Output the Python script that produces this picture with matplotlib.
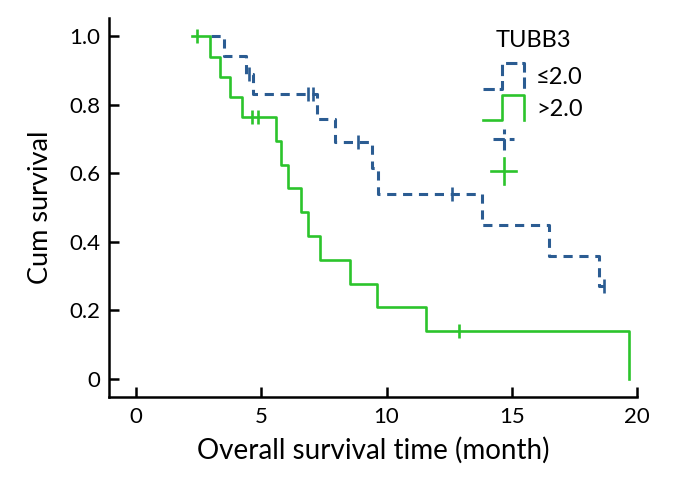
import matplotlib
matplotlib.use('Agg')
import matplotlib.pyplot as plt
from matplotlib.lines import Line2D
from matplotlib.legend_handler import HandlerBase

# ---------------- data ----------------
group_labels = ['\u22642.0', '>2.0']
legend_title = 'TUBB3'

low_start = 3.0
low_event_t = [3.5, 4.39, 4.67, 7.23, 7.94, 9.42, 9.66, 13.8, 16.5, 18.5]
low_event_s = [0.944, 0.889, 0.833, 0.759, 0.692, 0.617, 0.540, 0.450, 0.360, 0.270]
low_end = 18.7
low_censor_t = [4.5, 6.85, 7.05, 8.86, 12.6, 18.7]

high_start = 2.24
high_event_t = [2.95, 3.37, 3.75, 4.23, 5.6, 5.77, 6.05, 6.6, 6.87, 7.35, 8.54, 9.62, 11.58, 19.7]
high_event_s = [0.941, 0.882, 0.824, 0.765, 0.696, 0.626, 0.557, 0.487, 0.417, 0.348, 0.278, 0.209, 0.139, 0.0]
high_end = 19.7
high_censor_t = [2.43, 4.63, 4.87, 12.9]

x_ticks = [0, 5, 10, 15, 20]
y_ticks = [0, 0.2, 0.4, 0.6, 0.8, 1.0]
y_ticklabels = ['0', '0.2', '0.4', '0.6', '0.8', '1.0']

BLUE = '#2b5c92'
GREEN = '#2cc42c'
DASH = (0, (3.0, 2.2))

plt.rcParams['font.family'] = ['Lato', 'DejaVu Sans']


def surv_at(t, ev_t, ev_s):
    s = 1.0
    for et, es in zip(ev_t, ev_s):
        if et <= t:
            s = es
    return s


fig = plt.figure(figsize=(6.82, 4.80), dpi=100)
ax = fig.add_axes([109 / 682, 83 / 480, (637 - 109) / 682, (397 - 18) / 480])

# curves
for start, et, es, end, ct, color, ls in [
    (low_start, low_event_t, low_event_s, low_end, low_censor_t, BLUE, DASH),
    (high_start, high_event_t, high_event_s, high_end, high_censor_t, GREEN, '-'),
]:
    xs = [start] + et + [end]
    ys = [1.0] + es + [es[-1]]
    lw = 2.2 if ls != '-' else 1.9
    ax.step(xs, ys, where='post', color=color, lw=lw, linestyle=ls)
    cy = [surv_at(t, et, es) for t in ct]
    ax.plot(ct, cy, linestyle='none', marker='|', markersize=10,
            markeredgewidth=1.9, color=color)

ax.set_xlim(-1.08, 20.0)
ax.set_ylim(-0.053, 1.054)
ax.set_xticks(x_ticks)
ax.set_yticks(y_ticks)
ax.set_yticklabels(y_ticklabels)
for s in ['top', 'right']:
    ax.spines[s].set_visible(False)
for s in ['left', 'bottom']:
    ax.spines[s].set_linewidth(1.8)
ax.tick_params(direction='in', length=7, width=1.8, labelsize=16, pad=7)
ax.tick_params(axis='y', pad=6)

ax.set_xlabel('Overall survival time (month)', fontsize=20, labelpad=7)
ax.set_ylabel('Cum survival', fontsize=19.5, labelpad=12)


# ---------------- legend ----------------
class StepHandler(HandlerBase):
    def create_artists(self, legend, orig_handle, xdescent, ydescent,
                       width, height, fontsize, trans):
        x0, y0 = -xdescent, -ydescent - 0.1 * height
        w, h = width, height * 1.2
        xs = [x0, x0 + 0.45 * w, x0 + 0.45 * w, x0 + w, x0 + w]
        ys = [y0, y0, y0 + h, y0 + h, y0]
        ln = Line2D(xs, ys, color=orig_handle.get_color(),
                    lw=orig_handle.get_linewidth(),
                    linestyle=orig_handle.get_linestyle(), transform=trans)
        return [ln]


class PlusHandler(HandlerBase):
    def create_artists(self, legend, orig_handle, xdescent, ydescent,
                       width, height, fontsize, trans):
        cx = -xdescent + 0.5 * width
        cy = -ydescent + 0.5 * height
        r = 0.6 * height if orig_handle.get_linestyle() == '-' else 0.5 * height
        l1 = Line2D([cx - r, cx + r], [cy, cy], color=orig_handle.get_color(),
                    lw=orig_handle.get_linewidth(),
                    linestyle=orig_handle.get_linestyle(), transform=trans)
        l2 = Line2D([cx, cx], [cy - r, cy + r], color=orig_handle.get_color(),
                    lw=orig_handle.get_linewidth(),
                    linestyle=orig_handle.get_linestyle(), transform=trans)
        return [l1, l2]


class PlusLine(Line2D):
    pass


h_low = Line2D([], [], color=BLUE, lw=2.2, linestyle=DASH)
h_high = Line2D([], [], color=GREEN, lw=1.9, linestyle='-')
p_low = PlusLine([], [], color=BLUE, lw=2.2, linestyle=(0, (2.5, 2.0)))
p_high = PlusLine([], [], color=GREEN, lw=1.9, linestyle='-')

leg = ax.legend([h_low, h_high, p_low, p_high],
                [group_labels[0], group_labels[1], '', ''],
                handler_map={Line2D: StepHandler(), PlusLine: PlusHandler()},
                title=legend_title, title_fontsize=17, fontsize=17,
                frameon=False, loc='upper left',
                bbox_to_anchor=((483 - 109) / (637 - 109), (397 - 30) / (397 - 18)),
                borderpad=0, borderaxespad=0, handlelength=1.75, handleheight=1.0,
                labelspacing=0.38, handletextpad=0.5)
leg._legend_box.align = 'center'
leg._legend_box.sep = 0.38 * 17 + 4

fig.savefig('out.png', dpi=100)
